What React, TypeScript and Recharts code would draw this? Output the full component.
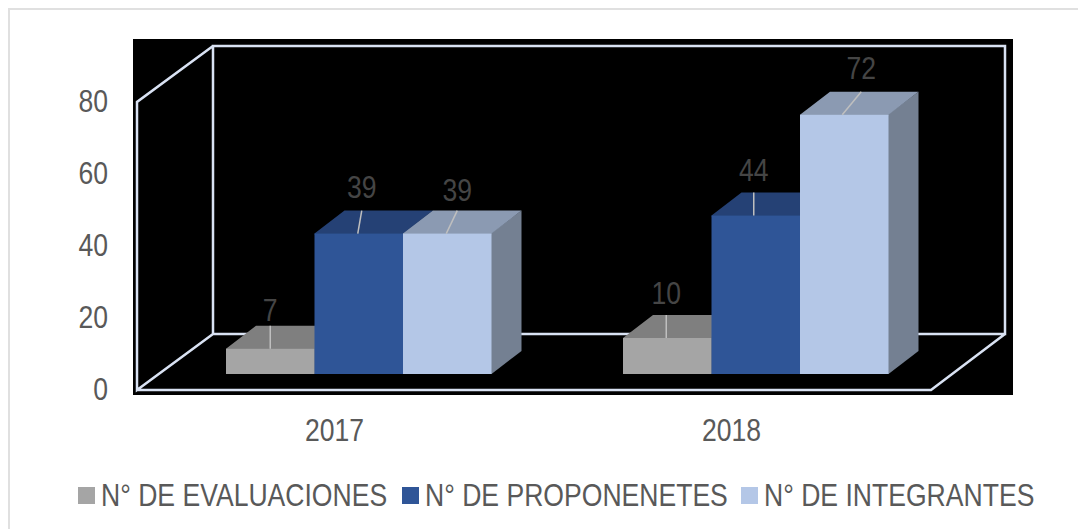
import { BarChart, Bar, XAxis, YAxis, Legend, LabelList } from "recharts";

const years = ["2017", "2018"];
const evaluaciones = [7, 10];
const proponentes = [39, 44];
const integrantes = [39, 72];
const yTicks = [0, 20, 40, 60, 80];

const data = years.map((year, i) => ({
  year,
  "N° DE EVALUACIONES": evaluaciones[i],
  "N° DE PROPONENETES": proponentes[i],
  "N° DE INTEGRANTES": integrantes[i],
}));

const FONT = '"Liberation Sans", sans-serif';
const FRAME = "#D9E2F3";
const DEPTH_X = 30;
const DEPTH_Y = 23;
// the original text is a tall narrow face, so squeeze a bigger size
const SIZE = 32;
const SQUEEZE = 0.83;

function NarrowText({ x, y, anchor, fill, children }: any) {
  return (
    <text
      transform={`translate(${x},${y}) scale(${SQUEEZE},1)`}
      textAnchor={anchor}
      dominantBaseline="central"
      fontFamily={FONT}
      fontSize={SIZE}
      fill={fill}
    >
      {children}
    </text>
  );
}

// fake 3D box around the flat bar
function Box3D({ x, y, width, height, front, top, side }: any) {
  const r = x + width;
  const b = y + height;
  return (
    <g>
      {/* side and top run 1px under the front so no seam shows the frame through */}
      <polygon
        points={`${r - 1},${y} ${r + DEPTH_X},${y - DEPTH_Y} ${r + DEPTH_X},${b - DEPTH_Y} ${r},${b} ${r - 1},${b}`}
        fill={side}
      />
      <polygon
        points={`${x},${y + 1} ${x},${y} ${x + DEPTH_X},${y - DEPTH_Y} ${r + DEPTH_X},${y - DEPTH_Y} ${r},${y} ${r},${y + 1}`}
        fill={top}
      />
      <rect x={x} y={y} width={width} height={height} fill={front} />
    </g>
  );
}

// label with its small leader line, nudges per point
function leaderLabel(values: number[], nudges: { base: number; tip: number; gap: number }[]) {
  return ({ x, y, width, index }: any) => {
    const n = nudges[index];
    const cx = x + width / 2;
    return (
      <g>
        <line x1={cx + n.base} y1={y} x2={cx + n.tip} y2={y - DEPTH_Y} stroke="#BFBFBF" strokeWidth={1.5} />
        <NarrowText x={cx + n.tip} y={y - n.gap} anchor="middle" fill="#454545">
          {values[index]}
        </NarrowText>
      </g>
    );
  };
}

function YTick({ y, payload }: any) {
  return (
    <NarrowText x={108} y={y + 15} anchor="end" fill="#595959">
      {payload.value}
    </NarrowText>
  );
}

function XTick({ x, payload }: any) {
  return (
    <NarrowText x={x - 24} y={430} anchor="middle" fill="#595959">
      {payload.value}
    </NarrowText>
  );
}

function LegendRow({ payload }: any) {
  const starts = [78, 402, 741];
  return (
    <div style={{ position: "relative", height: 60 }}>
      {payload.map((p: any, i: number) => (
        <div key={p.value} style={{ position: "absolute", left: starts[i], top: 8, display: "flex", alignItems: "center", whiteSpace: "nowrap" }}>
          <span style={{ width: 17, height: 17, background: p.color, marginRight: 6 }} />
          <span
            style={{
              fontFamily: FONT,
              fontSize: SIZE,
              color: "#595959",
              lineHeight: "36px",
              transform: `scaleX(${SQUEEZE})`,
              transformOrigin: "left center",
            }}
          >
            {p.value}
          </span>
        </div>
      ))}
    </div>
  );
}

export default function App() {
  return (
    <div style={{ position: "absolute", left: 0, top: 0, width: 1078, height: 529, background: "#fff" }}>
      <div style={{ position: "absolute", left: 8, top: 8, right: 0, bottom: 0, borderLeft: "2px solid #E0E0E0", borderTop: "2px solid #E0E0E0" }} />
      <BarChart
        width={1078}
        height={529}
        data={data}
        barGap={0}
        barSize={88.5}
        margin={{ top: 86, right: 124, bottom: 0, left: 100 }}
        style={{ position: "absolute", left: 0, top: 0 }}
      >
        <rect x={133} y={39} width={880} height={356} fill="#000" />
        <path
          d="M213 46H1005V334H213Z M213 46L137 102V390L213 334 M137 390H931L1005 334"
          fill="none"
          stroke={FRAME}
          strokeWidth={2.5}
        />
        <XAxis dataKey="year" axisLine={false} tickLine={false} height={95} tick={<XTick />} />
        <YAxis domain={[0, 80]} ticks={yTicks} width={60} axisLine={false} tickLine={false} tick={<YTick />} />
        <Legend verticalAlign="bottom" height={60} itemSorter={null} content={<LegendRow />} wrapperStyle={{ left: 0, right: 0, width: 1078 }} />
        <Bar
          dataKey="N° DE EVALUACIONES"
          fill="#A5A5A5"
          isAnimationActive={false}
          shape={(p: any) => <Box3D {...p} front="#A5A5A5" top="#7F7F7F" side="#737373" />}
        >
          <LabelList
            content={leaderLabel(evaluaciones, [
              { base: 0, tip: 0, gap: 39 },
              { base: -1, tip: -1, gap: 45 },
            ])}
          />
        </Bar>
        <Bar
          dataKey="N° DE PROPONENETES"
          fill="#2F5597"
          isAnimationActive={false}
          shape={(p: any) => <Box3D {...p} front="#2F5597" top="#254175" side="#213A69" />}
        >
          <LabelList
            content={leaderLabel(proponentes, [
              { base: -1, tip: 3, gap: 47 },
              { base: -2, tip: -2, gap: 46 },
            ])}
          />
        </Bar>
        <Bar
          dataKey="N° DE INTEGRANTES"
          fill="#B4C7E7"
          isAnimationActive={false}
          shape={(p: any) => <Box3D {...p} front="#B4C7E7" top="#8B9AB2" side="#748092" />}
        >
          <LabelList
            content={leaderLabel(integrantes, [
              { base: -1, tip: 10, gap: 44 },
              { base: -2, tip: 17, gap: 47 },
            ])}
          />
        </Bar>
      </BarChart>
    </div>
  );
}
